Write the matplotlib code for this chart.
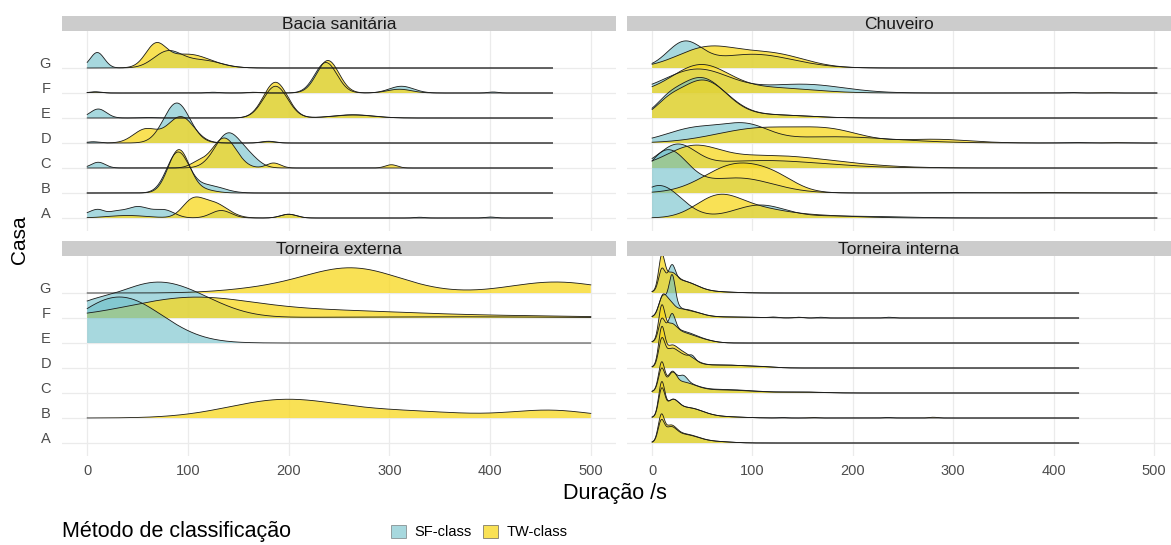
import matplotlib.pyplot as plt
import numpy as np
from matplotlib.patches import Patch

plt.rcParams['font.family'] = ['Liberation Sans', 'DejaVu Sans']

casas = ['A', 'B', 'C', 'D', 'E', 'F', 'G']
paineis = ['Bacia sanitária', 'Chuveiro', 'Torneira externa', 'Torneira interna']
duracao_max = [462, 503, 500, 425]
x_ticks = [0, 100, 200, 300, 400, 500]
metodos = ['SF-class', 'TW-class']

bacia_sf = {
    'G': [(10, 7, 0.62), (80, 14, 0.65), (115, 18, 0.3)],
    'F': [(8, 6, 0.05), (125, 6, 0.03), (165, 6, 0.03), (237, 11, 1.22), (312, 12, 0.27), (403, 5, 0.04)],
    'E': [(11, 8, 0.36), (60, 8, 0.02), (187, 12, 1.27), (264, 20, 0.13)],
    'D': [(6, 6, 0.05), (89, 13, 1.6), (180, 7, 0.07)],
    'C': [(11, 7, 0.23), (140, 13, 1.38), (162, 10, 0.3)],
    'B': [(90, 11, 1.6), (120, 15, 0.3)],
    'A': [(3, 8, 0.2), (12, 6, 0.2), (27, 8, 0.2), (50, 12, 0.45), (77, 10, 0.3),
          (133, 10, 0.3), (200, 8, 0.15), (330, 5, 0.03), (400, 5, 0.04)],
}
bacia_tw = {
    'G': [(68, 10, 0.82), (100, 22, 0.55)],
    'F': [(8, 6, 0.03), (165, 6, 0.02), (239, 11, 1.3), (310, 12, 0.15)],
    'E': [(187, 12, 1.43), (264, 20, 0.12)],
    'D': [(58, 12, 0.55), (93, 13, 1.05), (180, 7, 0.05)],
    'C': [(110, 8, 0.2), (136, 12, 1.2), (185, 7, 0.2), (302, 6, 0.13)],
    'B': [(91, 10.5, 1.72), (115, 12, 0.12)],
    'A': [(40, 20, 0.1), (104, 10, 0.6), (125, 14, 0.6), (200, 8, 0.15)],
}
chuveiro_sf = {
    'G': [(32, 17, 0.95), (100, 40, 0.55)],
    'F': [(45, 32, 0.95), (150, 40, 0.35), (417, 6, 0.02)],
    'E': [(48, 25, 1.6), (15, 12, 0.3), (120, 35, 0.12)],
    'D': [(45, 30, 0.6), (95, 22, 0.55), (180, 60, 0.25), (420, 10, 0.02)],
    'C': [(25, 18, 0.85), (110, 60, 0.3)],
    'B': [(15, 20, 1.65), (85, 35, 0.6), (300, 30, 0.015)],
    'A': [(7, 22, 1.3), (107, 25, 0.5), (190, 50, 0.08)],
}
chuveiro_tw = {
    'G': [(55, 30, 0.8), (120, 32, 0.55)],
    'F': [(48, 28, 1.1), (120, 40, 0.2), (450, 8, 0.015)],
    'E': [(50, 25, 1.5), (15, 12, 0.3), (120, 35, 0.12)],
    'D': [(110, 45, 0.6), (180, 30, 0.4), (280, 35, 0.15), (460, 8, 0.015)],
    'C': [(40, 25, 0.65), (115, 65, 0.5)],
    'B': [(85, 32, 1.15), (125, 20, 0.3), (390, 40, 0.015)],
    'A': [(65, 22, 0.75), (100, 30, 0.35), (160, 40, 0.1)],
}
externa_sf = {
    'F': [(0, 20, 0.3), (62, 40, 1.25), (110, 35, 0.4), (350, 120, 0.05)],
    'E': [(32, 42, 1.84)],
}
externa_tw = {
    'G': [(262, 48, 1.0), (465, 45, 0.44), (170, 40, 0.12)],
    'F': [(100, 60, 0.7), (230, 100, 0.3), (450, 80, 0.06)],
    'B': [(195, 55, 0.72), (320, 60, 0.25), (460, 40, 0.3)],
}
interna_sf = {
    'G': [(9.5, 3, 0.7), (20, 3, 0.45), (18, 6, 0.35), (30, 14, 0.45), (60, 20, 0.05)],
    'F': [(10, 3.5, 0.5), (20, 3, 1.1), (17, 7, 0.45), (32, 15, 0.3), (80, 25, 0.04),
          (121, 4, 0.03), (146, 4, 0.03), (168, 4, 0.03), (236, 4, 0.03)],
    'E': [(9.5, 3, 0.7), (20, 3, 0.5), (18, 6, 0.35), (30, 14, 0.45), (55, 10, 0.05)],
    'D': [(9.5, 3, 0.9), (18, 6, 0.4), (28, 12, 0.5), (40, 3, 0.15), (70, 25, 0.12), (110, 12, 0.03)],
    'C': [(9.5, 3, 0.8), (20, 4, 0.45), (31, 4, 0.25), (28, 14, 0.4), (70, 30, 0.14), (150, 20, 0.04)],
    'B': [(9.5, 3, 1.0), (20, 6, 0.5), (35, 15, 0.4), (70, 20, 0.05), (130, 4, 0.02), (235, 4, 0.02)],
    'A': [(9, 3, 0.7), (18, 6, 0.45), (32, 14, 0.33), (65, 15, 0.05)],
}
interna_tw = {
    'G': [(9.5, 3, 1.2), (18, 6, 0.5), (30, 14, 0.45), (60, 20, 0.05)],
    'F': [(10, 3.5, 0.55), (16, 5, 0.45), (30, 15, 0.35), (80, 25, 0.04), (146, 4, 0.02)],
    'E': [(9.5, 3, 1.2), (18, 6, 0.5), (30, 14, 0.4), (55, 10, 0.05)],
    'D': [(9.5, 3, 1.3), (18, 6, 0.45), (28, 12, 0.6), (70, 25, 0.12), (110, 12, 0.03)],
    'C': [(9.5, 3, 1.05), (20, 4, 0.5), (28, 14, 0.4), (70, 30, 0.12), (150, 20, 0.03)],
    'B': [(9.5, 3, 1.25), (20, 6, 0.5), (35, 15, 0.4), (70, 20, 0.05), (160, 4, 0.02), (280, 4, 0.03)],
    'A': [(9, 3, 0.9), (18, 6, 0.5), (32, 14, 0.35), (65, 15, 0.05)],
}
dados = [(bacia_sf, bacia_tw), (chuveiro_sf, chuveiro_tw),
         (externa_sf, externa_tw), (interna_sf, interna_tw)]

cor_sf = (108 / 255, 190 / 255, 200 / 255)
cor_tw = (248 / 255, 215 / 255, 28 / 255)
alpha_sf = 0.6
alpha_tw = 0.75


def curva(picos, x):
    y = np.zeros_like(x)
    for c, s, h in picos:
        y += h * np.exp(-0.5 * ((x - c) / s) ** 2)
    return y


W, H = 1171, 545
fig = plt.figure(figsize=(W / 100, H / 100), dpi=100)


def caixa(x0, y0, w, h):
    # coordenadas em pixels a partir do canto superior esquerdo
    return [x0 / W, 1 - (y0 + h) / H, w / W, h / H]


posicoes = [(62, 31, 554), (627, 31, 552), (62, 256, 554), (627, 256, 552)]

for i, nome in enumerate(paineis):
    x0, y0, w = posicoes[i]
    ax = fig.add_axes(caixa(x0, y0, w, 200))
    ax.set_xlim(-25, 525)
    ax.set_ylim(0.48, 8.48)
    ax.set_xticks(x_ticks)
    ax.set_yticks(range(1, 8))
    ax.grid(color='#EBEBEB', lw=0.9)
    ax.set_axisbelow(True)
    for s in ax.spines.values():
        s.set_visible(False)
    ax.tick_params(length=0, labelsize=10.5, labelcolor='#4D4D4D')
    ax.tick_params(axis='y', pad=8)
    ax.tick_params(axis='x', pad=6)
    if i % 2 == 0:
        ax.set_yticklabels(casas)
        for lbl in ax.get_yticklabels():
            lbl.set_va('baseline')
    else:
        ax.set_yticklabels([])
    if i >= 2:
        ax.set_xticklabels([str(t) for t in x_ticks])
    else:
        ax.set_xticklabels([])

    sf, tw = dados[i]
    x = np.linspace(0, duracao_max[i], 900)
    for k in reversed(range(len(casas))):
        casa = casas[k]
        for picos, cor, a in ((sf.get(casa, []), cor_sf, alpha_sf),
                              (tw.get(casa, []), cor_tw, alpha_tw)):
            if not picos:
                continue
            y = curva(picos, x)
            ax.fill_between(x, k + 1, k + 1 + y, facecolor=cor, alpha=a, lw=0)
            ax.plot(x, k + 1 + y, color='#1A1A1A', lw=0.6)

    sax = fig.add_axes(caixa(x0, y0 - 15, w, 15))
    sax.set_facecolor('#CCCCCC')
    sax.set_xticks([])
    sax.set_yticks([])
    for s in sax.spines.values():
        s.set_visible(False)
    # a faixa da direita passa da borda da figura: centra o texto na parte visível
    xc = 0.5 if i % 2 == 0 else (W - x0) / 2 / w
    sax.text(xc, 0.45, nome, transform=sax.transAxes, ha='center', va='center',
             fontsize=12.5, color='#1A1A1A')

fig.text(615 / W, 1 - 493 / H, 'Duração /s', ha='center', va='center', fontsize=15.5)
fig.text(19 / W, 1 - 240 / H, 'Casa', rotation=90, ha='center', va='center', fontsize=15)
fig.text(62 / W, 1 - 532 / H, 'Método de classificação', ha='left', va='center', fontsize=15.5)

alcas = [Patch(facecolor=cor_sf, alpha=alpha_sf, edgecolor='#555555', lw=0.6),
         Patch(facecolor=cor_tw, alpha=alpha_tw, edgecolor='#555555', lw=0.6)]
fig.legend(alcas, metodos, loc='center left', bbox_to_anchor=(391 / W, 1 - 532 / H),
           ncol=2, frameon=False, fontsize=10.5, handlelength=1.0, handleheight=1.0,
           handletextpad=0.6, columnspacing=0.8, borderpad=0, borderaxespad=0)

fig.savefig('out.png', dpi=100)
